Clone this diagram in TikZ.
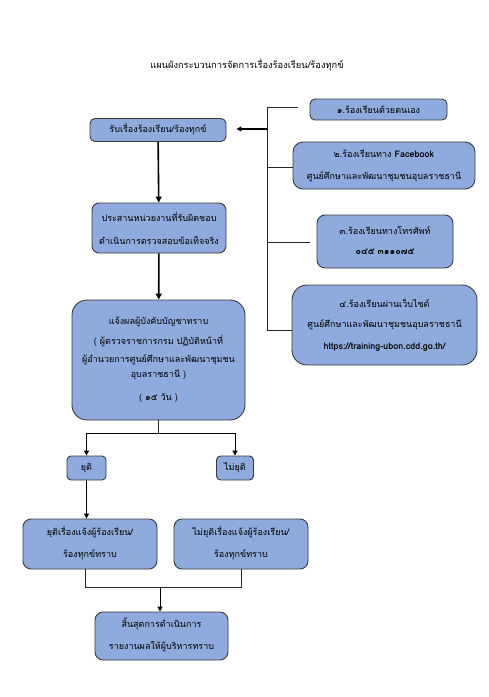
\documentclass[tikz,border=0pt]{standalone}
\usepackage{fontspec}
\newfontfamily\thai[Script=Thai]{Loma}
\usetikzlibrary{arrows.meta}
\definecolor{boxfill}{HTML}{8FAADC}
\definecolor{boxline}{HTML}{3A3A3A}
\tikzset{
  box/.style={draw=boxline, line width=0.9pt, fill=boxfill, rounded corners=#1, align=center, inner sep=0pt},
  box/.default=5pt,
  txt/.style={font=\thai\fontsize{9}{10}\selectfont, inner sep=0pt, anchor=center},
  thick arrow/.style={draw=black, line width=1.6pt, -{Triangle[length=6pt,width=6pt]}},
  thin arrow/.style={draw=black, line width=1pt, -{Triangle[length=5pt,width=5pt]}},
  link/.style={draw=black!85, line width=0.8pt}
}
\begin{document}
\begin{tikzpicture}[x=1pt,y=-1pt]
\useasboundingbox (0,0) rectangle (488,697);
% title
\node[txt, font=\thai\fontsize{9.3}{10}\selectfont] (title) at (247,65) {แผนผังกระบวนการจัดการเรื่องร้องเรียน/ร้องทุกข์};
% main column
\node[box, minimum width=136pt, minimum height=23pt] (A) at (158,130) {};
\node[txt] (At) at (158,129.5) {รับเรื่องร้องเรียน/ร้องทุกข์};
\node[box=7pt, minimum width=134pt, minimum height=50pt] (B) at (159,228) {};
\node[txt] (Bt1) at (159,217) {ประสานหน่วยงานที่รับผิดชอบ};
\node[txt] (Bt2) at (159,240) {ดำเนินการตรวจสอบข้อเท็จจริง};
\node[box=15pt, minimum width=173pt, minimum height=120pt] (C) at (158.5,360) {};
\node[txt] (Ct1) at (158.5,322) {แจ้งผลผู้บังคับบัญชาทราบ};
\node[txt] (Ct2) at (158.5,341) {( ผู้ตรวจราชการกรม ปฏิบัติหน้าที่};
\node[txt] (Ct3) at (158.5,360) {ผู้อำนวยการศูนย์ศึกษาและพัฒนาชุมชน};
\node[txt] (Ct4) at (158.5,375) {อุบลราชธานี )};
\node[txt] (Ct5) at (158.5,398) {( ๑๕ วัน )};
\node[box=4pt, minimum width=39pt, minimum height=24pt] (Y) at (86.5,468) {};
\node[txt] (Yt) at (86.5,468) {ยุติ};
\node[box=4pt, minimum width=37pt, minimum height=24pt] (N) at (235,468) {};
\node[txt] (Nt) at (235,468) {ไม่ยุติ};
\node[box=8pt, minimum width=134pt, minimum height=50pt] (D) at (90,544) {};
\node[txt] (Dt1) at (90,532) {ยุติเรื่องแจ้งผู้ร้องเรียน/};
\node[txt] (Dt2) at (90,555) {ร้องทุกข์ทราบ};
\node[box=8pt, minimum width=134pt, minimum height=50pt] (E) at (241,544) {};
\node[txt] (Et1) at (241,532) {ไม่ยุติเรื่องแจ้งผู้ร้องเรียน/};
\node[txt] (Et2) at (241,555) {ร้องทุกข์ทราบ};
\node[box=8pt, minimum width=133pt, minimum height=48pt] (F) at (161.5,636) {};
\node[txt] (Ft1) at (161.5,624) {สิ้นสุดการดำเนินการ};
\node[txt] (Ft2) at (161.5,647) {รายงานผลให้ผู้บริหารทราบ};
% right column
\node[box=5pt, minimum width=137pt, minimum height=21pt] (R1) at (378.5,109.5) {};
\node[txt] (R1t) at (378.5,109.5) {๑.ร้องเรียนด้วยตนเอง};
\node[box=10pt, minimum width=182pt, minimum height=47pt] (R2) at (384,165.5) {};
\node[txt] (R2t1) at (384,154) {๒.ร้องเรียนทาง \textbf{Facebook}};
\node[txt] (R2t2) at (384,177) {ศูนย์ศึกษาและพัฒนาชุมชนอุบลราชธานี};
\node[box=8pt, minimum width=136pt, minimum height=53pt] (R3) at (385,241.5) {};
\node[txt] (R3t1) at (385,230) {๓.ร้องเรียนทางโทรศัพท์};
\node[txt] (R3t2) at (385,252) {\textbf{๐๔๕ ๓๑๑๐๗๕}};
\node[box=15pt, minimum width=185pt, minimum height=80pt] (R4) at (384.5,325) {};
\node[txt] (R4t1) at (384.5,303) {๔.ร้องเรียนผ่านเว็บไซต์};
\node[txt] (R4t2) at (384.5,325) {ศูนย์ศึกษาและพัฒนาชุมชนอุบลราชธานี};
\node[txt, font=\thai\bfseries\fontsize{9}{10}\selectfont] (R4t3) at (384.5,347) {https://training-ubon.cdd.go.th/};
% bus coordinates
\coordinate (bus1) at (267,107);
\coordinate (busA) at (267,129);
\coordinate (bus2) at (267,167);
\coordinate (bus3) at (267,242);
\coordinate (bus4) at (267,330);
\coordinate (split) at (158.5,433);
\coordinate (join) at (160,587);
% connectors
\draw[thick arrow] (A) -- (B);
\draw[thick arrow] (B) -- (C);
\draw[link] (bus1) -- (bus4);
\draw[link, shorten >=12pt] (bus1) -- (bus1 -| R1.west);
\draw[link] (bus2) -- (bus2 -| R2.west);
\draw[link, shorten >=7pt] (bus3) -- (bus3 -| R3.west);
\draw[link] (bus4) -- (bus4 -| R4.west);
\draw[thin arrow, line width=1.2pt, shorten >=10pt] (busA) -- (busA -| A.east);
\draw[link] (C.south) -- (split);
\draw[thin arrow] (split) -| (Y.north);
\draw[thin arrow] (split) -| (N.north);
\draw[thin arrow] (Y) -- (Y |- D.north);
\draw[link] ([xshift=-5pt]D.south) |- (join);
\draw[link] (E.south) |- (join);
\draw[thin arrow] (join) -- (join |- F.north);
\end{tikzpicture}
\end{document}
